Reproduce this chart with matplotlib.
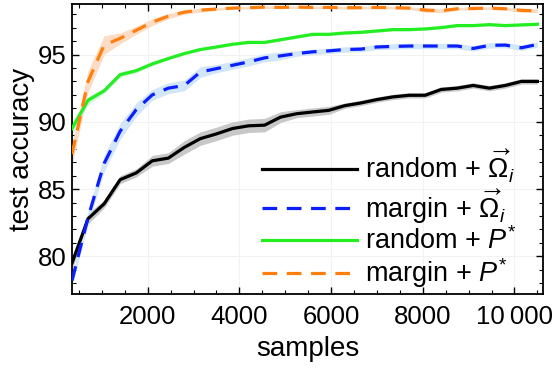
import numpy as np
import matplotlib
matplotlib.use('Agg')
import matplotlib.pyplot as plt
from matplotlib.ticker import MultipleLocator, FixedLocator

plt.rcParams['font.family'] = ['Liberation Sans', 'DejaVu Sans']
plt.rcParams['mathtext.fontset'] = 'custom'
plt.rcParams['mathtext.rm'] = 'Liberation Sans'
plt.rcParams['mathtext.it'] = 'Liberation Sans:italic'

#----- data -----
samples = [350 * k for k in range(1, 31)]

random_omega = [79.5, 82.8, 83.9, 85.7, 86.2, 87.1, 87.3, 88.1, 88.75, 89.1,
                89.5, 89.7, 89.75, 90.35, 90.6, 90.73, 90.85, 91.2, 91.4, 91.65,
                91.85, 91.97, 91.97, 92.4, 92.5, 92.7, 92.5, 92.7, 93.0, 93.0]
random_omega_err = [0.5, 0.4, 0.3, 0.3, 0.3, 0.4, 0.4, 0.5, 0.5, 0.5,
                    0.5, 0.5, 0.5, 0.4, 0.3, 0.3, 0.3, 0.2, 0.2, 0.2,
                    0.2, 0.2, 0.2, 0.2, 0.2, 0.2, 0.2, 0.2, 0.2, 0.2]

margin_omega = [78.2, 82.9, 86.9, 89.3, 90.9, 92.0, 92.5, 92.7, 93.7, 93.95,
                94.2, 94.45, 94.75, 94.9, 95.07, 95.2, 95.27, 95.37, 95.4, 95.56,
                95.6, 95.63, 95.63, 95.63, 95.63, 95.45, 95.68, 95.7, 95.5, 95.75]
margin_omega_err = [0.4, 0.5, 0.6, 0.6, 0.5, 0.4, 0.4, 0.4, 0.4, 0.3,
                    0.3, 0.3, 0.3, 0.3, 0.2, 0.2, 0.2, 0.2, 0.2, 0.2,
                    0.2, 0.2, 0.2, 0.2, 0.2, 0.2, 0.2, 0.2, 0.2, 0.2]

random_p = [89.5, 91.6, 92.3, 93.5, 93.8, 94.3, 94.7, 95.07, 95.37, 95.56,
            95.76, 95.9, 95.9, 96.1, 96.3, 96.5, 96.5, 96.6, 96.65, 96.75,
            96.85, 96.85, 96.9, 97.0, 97.15, 97.15, 97.22, 97.15, 97.2, 97.25]
random_p_err = [0.5, 0.3, 0.2, 0.2, 0.15, 0.15, 0.1, 0.1, 0.1, 0.1,
                0.1, 0.1, 0.1, 0.1, 0.1, 0.1, 0.1, 0.1, 0.1, 0.1,
                0.1, 0.1, 0.1, 0.1, 0.1, 0.1, 0.1, 0.1, 0.1, 0.1]

margin_p = [87.6, 93.0, 95.7, 96.2, 96.8, 97.4, 97.85, 98.15, 98.3, 98.38,
            98.45, 98.48, 98.52, 98.5, 98.52, 98.5, 98.5, 98.48, 98.48, 98.5,
            98.48, 98.45, 98.3, 98.25, 98.4, 98.42, 98.45, 98.4, 98.28, 98.25]
margin_p_err = [0.8, 0.8, 0.7, 0.4, 0.3, 0.25, 0.2, 0.15, 0.15, 0.1,
                0.1, 0.1, 0.1, 0.1, 0.1, 0.1, 0.1, 0.1, 0.1, 0.1,
                0.1, 0.1, 0.15, 0.15, 0.1, 0.1, 0.1, 0.1, 0.15, 0.15]

labels = [r'random + $\overrightarrow{\Omega}_i$',
          r'margin + $\overrightarrow{\Omega}_i$',
          r'random + $P^{*}$',
          r'margin + $P^{*}$']

#----- plot -----
fig = plt.figure(figsize=(5.54, 3.68), dpi=100)
ax = fig.add_axes([0.130, 0.201, 0.850, 0.788])

x = np.array(samples)
series = [
    (random_omega, random_omega_err, '#000000', '#c8c8c8', '-'),
    (margin_omega, margin_omega_err, '#0a1eff', '#d2e6fa', (0, (4.6, 3.0))),
    (random_p, random_p_err, '#22ee22', '#d6f5d6', '-'),
    (margin_p, margin_p_err, '#ff7f0e', '#fcdcc4', (0, (4.6, 3.0))),
]
for vals, err, col, band, ls in series:
    v = np.array(vals)
    e = np.array(err)
    ax.fill_between(x, v - e, v + e, color=band, lw=0, zorder=1)
for (vals, err, col, band, ls), lab in zip(series, labels):
    ax.plot(x, vals, color=col, lw=2.3, ls=ls, label=lab, zorder=3)

ax.set_xlim(350, 10620)
ax.set_ylim(77.2, 98.75)

ax.xaxis.set_major_locator(FixedLocator([2000, 4000, 6000, 8000, 10000]))
ax.set_xticklabels(['2000', '4000', '6000', '8000', '10\u2009000'])
ax.xaxis.set_minor_locator(MultipleLocator(500))
ax.yaxis.set_major_locator(MultipleLocator(5))
ax.yaxis.set_minor_locator(MultipleLocator(1))
ax.tick_params(which='both', direction='in', top=True, right=True, labelsize=18.5)
ax.tick_params(axis='x', pad=8)
ax.tick_params(axis='y', pad=4)
ax.tick_params(which='major', length=5, width=1)
ax.tick_params(which='minor', length=3, width=0.8)
ax.grid(which='major', color='#f2f2f2', lw=0.8)
ax.set_axisbelow(True)
for s in ax.spines.values():
    s.set_linewidth(1.3)

ax.set_xlabel('samples', fontsize=20, labelpad=5)
ax.set_ylabel('test accuracy', fontsize=20, labelpad=2)

ax.legend(loc='lower right', bbox_to_anchor=(0.968, -0.025), frameon=False,
          fontsize=19.5, handlelength=3.5, handletextpad=0.3,
          labelspacing=0.06, borderaxespad=0)

fig.savefig('out.png', dpi=100)
